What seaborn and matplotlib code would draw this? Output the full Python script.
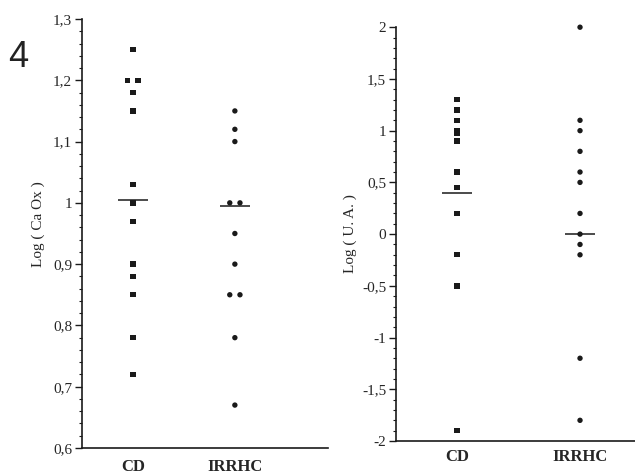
import pandas as pd
import seaborn as sns
import matplotlib.pyplot as plt
from matplotlib.ticker import FuncFormatter, MultipleLocator

groups = ['CD', 'IRRHC']

# panel 1 : Log (Ca Ox)
caox_cd = [1.25, 1.20, 1.20, 1.18, 1.15, 1.03, 1.00, 0.97, 0.90, 0.88, 0.85, 0.78, 0.72]
caox_irrhc = [1.15, 1.12, 1.10, 1.00, 1.00, 0.95, 0.90, 0.85, 0.85, 0.78, 0.67]
caox_lines = [1.005, 0.995]

# panel 2 : Log (U. A.)
ua_cd = [1.30, 1.20, 1.10, 1.00, 0.97, 0.90, 0.60, 0.45, 0.20, -0.20, -0.50, -1.90]
ua_irrhc = [2.00, 1.10, 1.00, 0.80, 0.60, 0.50, 0.20, 0.00, -0.10, -0.20, -1.20, -1.80]
ua_lines = [0.40, 0.00]

INK = '#1a1a1a'

sns.set_style('ticks')
plt.rcParams['font.family'] = ['Liberation Serif', 'DejaVu Serif']


def make_frame(cd, irrhc, spread):
    # equal values are put side by side
    parts = []
    for i, (g, vals) in enumerate(zip(groups, [cd, irrhc])):
        s = pd.Series(vals)
        n = s.map(s.value_counts())
        k = s.groupby(s).cumcount()
        parts.append(pd.DataFrame({'group': g, 'value': s, 'pos': i + (k - (n - 1) / 2) * spread}))
    return pd.concat(parts, ignore_index=True)


def comma(v, _):
    return ('%g' % round(v, 3)).replace('.', ',')


def draw_panel(ax, df, lines, half, xlim, ylim, major, minor, ylabel, label_xy, xpad):
    sns.scatterplot(data=df, x='pos', y='value', style='group',
                    markers={'CD': 's', 'IRRHC': 'o'}, color=INK, s=15,
                    edgecolor='none', legend=False, ax=ax)
    for c in ax.collections:
        c.set_clip_on(False)
    for i, m in enumerate(lines):
        ax.hlines(m, i - half, i + half, color=INK, lw=1.1)

    ax.set_xlim(*xlim)
    ax.set_ylim(*ylim)
    ax.set_xticks([0, 1])
    ax.set_xticklabels(groups, fontweight='bold', fontsize=12)
    ax.tick_params(axis='x', length=0, pad=xpad)
    ax.yaxis.set_major_locator(MultipleLocator(major))
    ax.yaxis.set_minor_locator(MultipleLocator(minor))
    ax.yaxis.set_major_formatter(FuncFormatter(comma))
    ax.tick_params(axis='y', which='major', length=5, width=1, labelsize=11, pad=2, color=INK)
    ax.tick_params(axis='y', which='minor', length=2.5, width=0.8, color=INK)
    ax.set_xlabel('')
    ax.set_ylabel(ylabel, fontsize=11)
    ax.yaxis.set_label_coords(*label_xy)
    sns.despine(ax=ax)
    for side in ['left', 'bottom']:
        ax.spines[side].set_linewidth(1.2)
        ax.spines[side].set_color(INK)


fig = plt.figure(figsize=(6.35, 4.74), dpi=100)
ax1 = fig.add_axes([0.129, 0.0549, 0.387, 0.905])
ax2 = fig.add_axes([0.6236, 0.0696, 0.3764, 0.873])

draw_panel(ax1, make_frame(caox_cd, caox_irrhc, 0.1), caox_lines, 0.15,
           (-0.5, 1.91), (0.6, 1.3), 0.1, 0.02, 'Log ( Ca Ox )', (-0.15, 0.523), 8)
draw_panel(ax2, make_frame(ua_cd, ua_irrhc, 0.09), ua_lines, 0.12,
           (-0.496, 1.447), (-2, 2), 0.5, 0.1, 'Log ( U. A. )', (-0.163, 0.502), 6)

fig.text(8 / 635, 1 - 67 / 474, '4', fontsize=26, family=['Liberation Sans', 'DejaVu Sans'],
         color='#222222', va='baseline', ha='left')

fig.savefig('out.png', dpi=100)
